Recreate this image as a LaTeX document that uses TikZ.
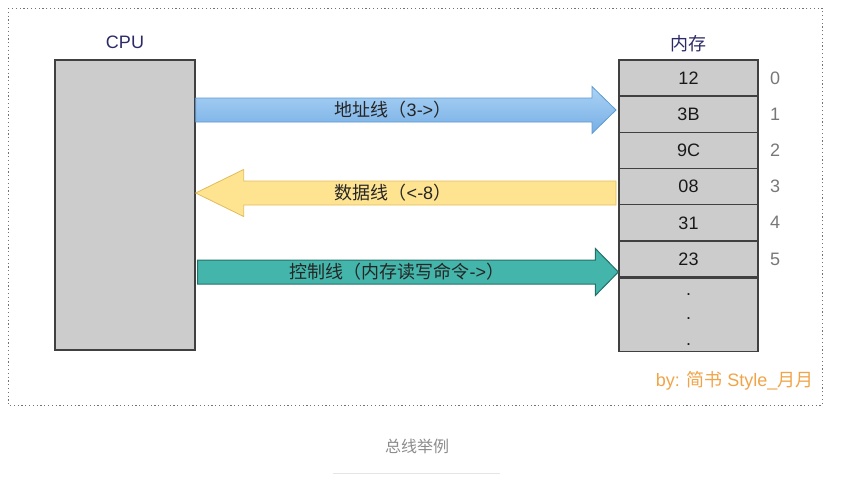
\documentclass[tikz,border=0pt]{standalone}
\usepackage{fontspec}
\setmainfont{Liberation Sans}
\newfontfamily\cjk{Noto Sans CJK SC}
\usetikzlibrary{positioning,calc}
\definecolor{boxgray}{HTML}{CCCCCC}
\definecolor{titleblue}{HTML}{2C2A66}
\definecolor{idxgray}{HTML}{777777}
\definecolor{addrtop}{HTML}{ABD3F5}
\definecolor{addrbot}{HTML}{76AEE5}
\definecolor{addrline}{HTML}{5E9AD2}
\definecolor{datafill}{HTML}{FEE391}
\definecolor{dataline}{HTML}{E2BC5C}
\definecolor{ctrlfill}{HTML}{44B5AA}
\definecolor{ctrlline}{HTML}{23706A}
\definecolor{signorange}{HTML}{F0A448}
\begin{document}
\begin{tikzpicture}[x=1pt,y=-1pt,
  font=\fontsize{18}{21}\selectfont,
  unit/.style={draw=black!75,line width=1.3pt,fill=boxgray},
  cell/.style={unit,minimum width=139pt,minimum height=36.2pt,inner sep=0pt,
    text=black!90},
  title/.style={text=titleblue},
  idx/.style={text=idxgray},
  dot/.style={anchor=base,inner sep=0pt,text=black!90},
  bus/.style={to path={
    ($(\tikztostart)+(0,-12)$) -- ($(\tikztotarget)+(#1,-12)$)
    -- ($(\tikztotarget)+(#1,-23.5)$) -- (\tikztotarget)
    -- ($(\tikztotarget)+(#1,23.5)$) -- ($(\tikztotarget)+(#1,12)$)
    -- ($(\tikztostart)+(0,12)$) -- cycle}},
  addrbus/.style={draw=addrline,line width=0.8pt,top color=addrtop,bottom color=addrbot},
  databus/.style={draw=dataline,line width=0.8pt,fill=datafill},
  ctrlbus/.style={draw=ctrlline,line width=1pt,fill=ctrlfill},
  buslabel/.style={text=black!85,inner sep=1pt}]
\useasboundingbox (0,0) rectangle (847,501);
\draw[black!55,line width=1pt,dash pattern=on 1.2pt off 2.6pt] (8,8) rectangle (822,405);

% cpu
\node[unit,minimum width=140pt,minimum height=290pt] (cpu) at (125,205) {};
\node[title,above=7pt of cpu] (cpulbl) {CPU};

% memory cells
\foreach \v [count=\i from 0] in {12,3B,9C,08,31,23} {
  \node[cell] (m\i) at (688.5,{78+36.2*\i}) {\v};
  \node[idx,right=8pt of m\i] (n\i) {\i};
}
\node[cell,minimum height=73pt,below=0pt of m5] (mrest) {};
\foreach \d in {16,40,66}
  \node[dot] (dot\d) at ($(mrest.north)+(0,\d+1.5)$) {.};
\node[title,above=4pt of m0,font=\cjk\fontsize{18}{21}\selectfont] (memlbl) {内存};

% buses
\coordinate (addrS) at ($(cpu.east)+(0,-95)$);
\coordinate (addrE) at (616,110);
\coordinate (dataS) at (616,193);
\coordinate (dataE) at ($(cpu.east)+(0,-12)$);
\coordinate (ctrlS) at ($(cpu.east)+(2,67)$);
\coordinate (ctrlE) at (m5.west |- ctrlS);
\draw[addrbus] (addrS) to[bus=-24] (addrE);
\draw[databus] (dataS) to[bus=48] (dataE);
\draw[ctrlbus] (ctrlS) to[bus=-23] (ctrlE);
\node[buslabel] (addrlbl) at (393,110) {{\cjk 地址线（}3->{\cjk ）}};
\node[buslabel] (datalbl) at (393,193) {{\cjk 数据线（}<-8{\cjk ）}};
\node[buslabel] (ctrllbl) at (397,272) {{\cjk 控制线（内存读写命令}->{\cjk ）}};

\node[text=signorange,anchor=east] (sign) at (817,381) {by: {\cjk 简书} Style\_{\cjk 月月}};
\node[text=black!45,font=\cjk\fontsize{16}{19}\selectfont] (caption) at (417,446) {总线举例};
\draw[black!10] (333,473) -- (500,473);
\end{tikzpicture}
\end{document}
